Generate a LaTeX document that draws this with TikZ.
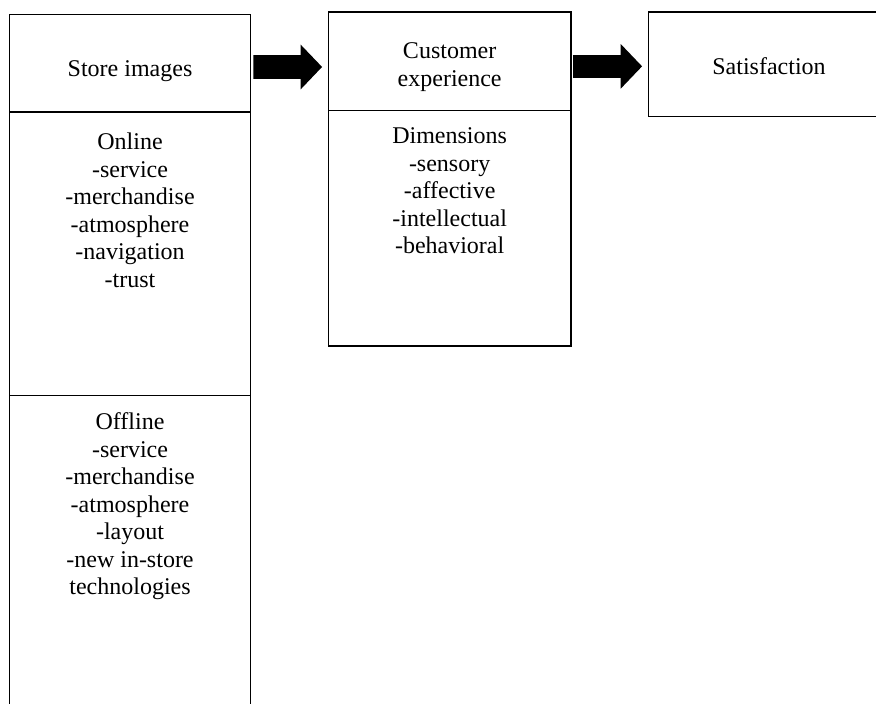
\documentclass[tikz,border=0pt]{standalone}
\usepackage{fontspec}
\setmainfont{Liberation Serif}
\usetikzlibrary{arrows.meta,positioning}

\begin{document}
\begin{tikzpicture}[x=0.5pt,y=-0.5pt,
        feld/.style={draw=black,line width=0.6pt,inner sep=0pt},
        schrift/.style={font=\fontsize{12}{13.75}\selectfont,align=center,inner sep=0pt},
        pfeil/.style={line width=11.8pt,-{Triangle[width=21.7pt,length=10.7pt]}}]
            \useasboundingbox (0,0) rectangle (876,704);
            \clip (0,0) rectangle (876,704);

            % Kaesten links
            \node[feld,minimum width=120.5pt,minimum height=48.75pt] (store) at (130,63.25) {};
            \node[feld,minimum width=120.5pt,minimum height=141.75pt] (online) at (130,253.75) {};
            \node[feld,minimum width=120.5pt,minimum height=162.25pt] (offline) at (130,557.75) {};

            % Kaesten Mitte & rechts
            \node[feld,minimum width=121.35pt,minimum height=49.35pt] (cxhead) at (449.65,61.35) {};
            \node[feld,minimum width=121.35pt,minimum height=117.65pt] (dims) at (449.65,228.35) {};
            \node[feld,minimum width=120.7pt,minimum height=52.35pt] (satis) at (769,64.35) {};

            % Beschriftung
            \node[schrift] (storetxt) at (130,71.5) {Store images};
            \node[schrift,below=10.65pt of online.north] (onlinetxt) {Online\\-service\\-merchandise\\-atmosphere\\-navigation\\-trust};
            \node[schrift,below=8.75pt of offline.north] (offlinetxt) {Offline\\-service\\-merchandise\\-atmosphere\\-layout\\-new in-store\\technologies};
            \node[schrift] (cxtxt) at (449.65,67.3) {Customer\\experience};
            \node[schrift,below=8.8pt of dims.north] (dimstxt) {Dimensions\\-sensory\\-affective\\-intellectual\\-behavioral};
            \node[schrift] (satistxt) at (769,66.2) {Satisfaction};

            % Pfeile
            \draw[pfeil,shorten <=1.1pt,shorten >=2.8pt] ([yshift=-1.9pt]store.east) -- ([yshift=-2.8pt]cxhead.west);
            \draw[pfeil,shorten <=0.65pt,shorten >=2.8pt] ([yshift=-2.5pt]cxhead.east) -- ([yshift=-1pt]satis.west);
        \end{tikzpicture}
\end{document}
